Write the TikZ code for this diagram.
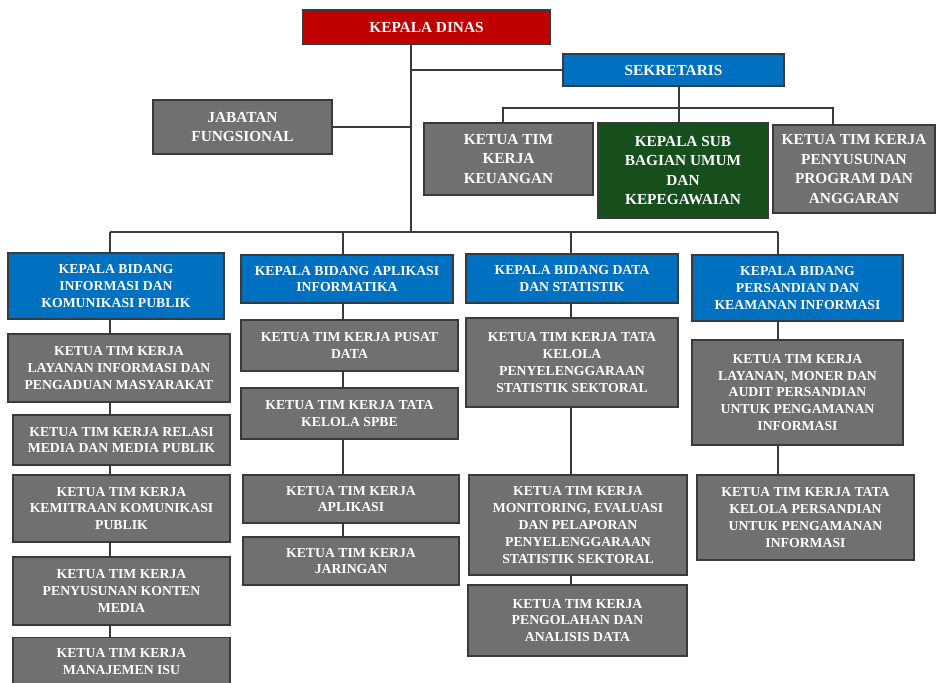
\documentclass[tikz,border=0pt]{standalone}
\usepackage{fontspec}
\setmainfont{Liberation Serif}
\definecolor{kadisred}{RGB}{192,0,0}
\definecolor{bidangblue}{RGB}{0,112,192}
\definecolor{umumgreen}{RGB}{22,78,28}
\definecolor{timgray}{RGB}{112,112,112}
\definecolor{boxline}{RGB}{58,58,58}
\newcommand{\topfont}{\bfseries\fontsize{11.5}{14.6}\selectfont}
\newcommand{\lowfont}{\bfseries\fontsize{10.3}{12.6}\selectfont}
\tikzset{
    common/.style={draw=boxline, line width=1.1pt, text=white, align=center, inner sep=2pt, font=\lowfont},
    top/.style={common, font=\topfont},
    bidang/.style={common, fill=bidangblue},
    tim/.style={common, fill=timgray},
    boxsize/.style 2 args={minimum width=#1*0.75pt, minimum height=#2*0.75pt},
    conn/.style={draw=boxline, line width=0.9pt}
}
\begin{document}
\begin{tikzpicture}[x=0.75pt, y=-0.75pt]
    \clip (0,0) rectangle (937,682);
    \fill[white] (0,0) rectangle (937,682);

    % pimpinan dan sekretariat
    \node[top, fill=kadisred, boxsize={247}{34}] (kadis) at (426.5,27) {KEPALA DINAS};
    \node[top, fill=bidangblue, boxsize={221}{32}] (sekre) at (673.5,70) {SEKRETARIS};
    \node[top, fill=timgray, boxsize={179}{54}] (jab) at (242.5,127) {JABATAN\\FUNGSIONAL};
    \node[top, fill=timgray, boxsize={169}{72}] (keu) at (508.5,159) {KETUA TIM\\KERJA\\KEUANGAN};
    \node[top, fill=umumgreen, boxsize={170}{95}] (umum) at (683,170.5) {KEPALA SUB\\BAGIAN UMUM\\DAN\\KEPEGAWAIAN};
    \node[top, fill=timgray, boxsize={162}{88}] (prog) at (854,169) {KETUA TIM KERJA\\PENYUSUNAN\\PROGRAM DAN\\ANGGARAN};

    % bidang
    \node[bidang, boxsize={216}{66}] (b1) at (116,286) {KEPALA BIDANG\\INFORMASI DAN\\KOMUNIKASI PUBLIK};
    \node[bidang, boxsize={212}{48}] (b2) at (347,279) {KEPALA BIDANG APLIKASI\\INFORMATIKA};
    \node[bidang, boxsize={212}{49}] (b3) at (572,278.5) {KEPALA BIDANG DATA\\DAN STATISTIK};
    \node[bidang, boxsize={211}{66}] (b4) at (797.5,288) {KEPALA BIDANG\\PERSANDIAN DAN\\KEAMANAN INFORMASI};

    % tim kerja bidang informasi dan komunikasi publik
    \node[tim, boxsize={222}{68}] (l1) at (119,368) {KETUA TIM KERJA\\LAYANAN INFORMASI DAN\\PENGADUAN MASYARAKAT};
    \node[tim, boxsize={217}{50}] (l2) at (121.5,440) {KETUA TIM KERJA RELASI\\MEDIA DAN MEDIA PUBLIK};
    \node[tim, boxsize={217}{67}] (l3) at (121.5,508.5) {KETUA TIM KERJA\\KEMITRAAN KOMUNIKASI\\PUBLIK};
    \node[tim, boxsize={217}{68}] (l4) at (121.5,591) {KETUA TIM KERJA\\PENYUSUNAN KONTEN\\MEDIA};
    \node[tim, boxsize={217}{48}, anchor=north] (l5) at (121.5,637) {KETUA TIM KERJA\\MANAJEMEN ISU};

    % tim kerja bidang aplikasi informatika
    \node[tim, boxsize={217}{51}] (m1) at (349.5,345.5) {KETUA TIM KERJA PUSAT\\DATA};
    \node[tim, boxsize={217}{51}] (m2) at (349.5,413.5) {KETUA TIM KERJA TATA\\KELOLA SPBE};
    \node[tim, boxsize={216}{48}] (m3) at (351,499) {KETUA TIM KERJA\\APLIKASI};
    \node[tim, boxsize={216}{48}] (m4) at (351,561) {KETUA TIM KERJA\\JARINGAN};

    % tim kerja bidang data dan statistik
    \node[tim, boxsize={212}{89}] (d1) at (572,362.5) {KETUA TIM KERJA TATA\\KELOLA\\PENYELENGGARAAN\\STATISTIK SEKTORAL};
    \node[tim, boxsize={218}{100}] (d2) at (578,525) {KETUA TIM KERJA\\MONITORING, EVALUASI\\DAN PELAPORAN\\PENYELENGGARAAN\\STATISTIK SEKTORAL};
    \node[tim, boxsize={219}{71}] (d3) at (577.5,620.5) {KETUA TIM KERJA\\PENGOLAHAN DAN\\ANALISIS DATA};

    % tim kerja bidang persandian dan keamanan informasi
    \node[tim, boxsize={211}{105}] (p1) at (797.5,392.5) {KETUA TIM KERJA\\LAYANAN, MONER DAN\\AUDIT PERSANDIAN\\UNTUK PENGAMANAN\\INFORMASI};
    \node[tim, boxsize={217}{85}] (p2) at (805.5,517.5) {KETUA TIM KERJA TATA\\KELOLA PERSANDIAN\\UNTUK PENGAMANAN\\INFORMASI};

    % garis
    \coordinate (trunk) at (411,232);
    \coordinate (sbar) at (679,108);
    \coordinate (col1) at (110,232);
    \coordinate (col2) at (343,232);
    \coordinate (col3) at (571,232);
    \coordinate (col4) at (778,232);

    \draw[conn] (kadis.south -| trunk) -- (trunk);
    \draw[conn] (trunk |- sekre.west) -- (sekre.west);
    \draw[conn] (jab.east) -- (jab.east -| trunk);
    \draw[conn] (sekre.south -| sbar) -- (umum.north -| sbar);
    \draw[conn] (keu.north -| 503,0) -- (sbar -| 503,0) -| (prog.north -| 833,0);
    \draw[conn] (col1) -- (col4);
    \foreach \c/\b in {col1/b1, col2/b2, col3/b3, col4/b4}
        \draw[conn] (\c) -- (\c |- \b.north);
    \foreach \a/\b/\c in {b1/l1/col1, l1/l2/col1, l2/l3/col1, l3/l4/col1, l4/l5/col1,
                         b2/m1/col2, m1/m2/col2, m2/m3/col2, m3/m4/col2,
                         b3/d1/col3, d1/d2/col3, d2/d3/col3,
                         b4/p1/col4, p1/p2/col4}
        \draw[conn] (\a.south -| \c) -- (\b.north -| \c);
\end{tikzpicture}
\end{document}
